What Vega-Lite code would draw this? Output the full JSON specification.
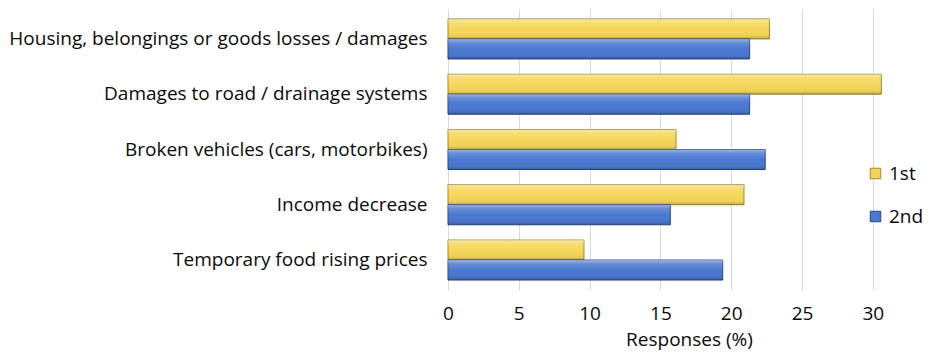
{
  "$schema": "https://vega.github.io/schema/vega-lite/v6.json",
  "autosize": {"type": "none"},
  "padding": {"left": 448, "top": 9, "right": 59, "bottom": 66},
  "width": 439,
  "height": 281,
  "background": "white",
  "config": {
    "font": "Open Sans",
    "view": {"stroke": null},
    "axis": {"labelFont": "Open Sans", "titleFont": "Open Sans", "labelColor": "#0a0a0a", "titleColor": "#0a0a0a"}
  },
  "data": {
    "values": [
      {"cat": "Housing, belongings or goods losses / damages", "series": "1st", "value": 22.7},
      {"cat": "Housing, belongings or goods losses / damages", "series": "2nd", "value": 21.3},
      {"cat": "Damages to road / drainage systems", "series": "1st", "value": 30.6},
      {"cat": "Damages to road / drainage systems", "series": "2nd", "value": 21.3},
      {"cat": "Broken vehicles (cars, motorbikes)", "series": "1st", "value": 16.1},
      {"cat": "Broken vehicles (cars, motorbikes)", "series": "2nd", "value": 22.4},
      {"cat": "Income decrease", "series": "1st", "value": 20.9},
      {"cat": "Income decrease", "series": "2nd", "value": 15.7},
      {"cat": "Temporary food rising prices", "series": "1st", "value": 9.6},
      {"cat": "Temporary food rising prices", "series": "2nd", "value": 19.4}
    ]
  },
  "encoding": {
    "y": {
      "field": "cat", "type": "nominal", "sort": null,
      "scale": {"paddingInner": 0.276, "paddingOuter": 0.18},
      "axis": {"title": null, "domain": false, "ticks": false, "grid": false, "labelPadding": 21, "labelFontSize": 19, "labelLimit": 460}
    },
    "yOffset": {"field": "series", "type": "nominal", "sort": ["1st", "2nd"], "scale": {"paddingInner": 0, "paddingOuter": 0}},
    "x": {
      "field": "value", "type": "quantitative",
      "scale": {"domain": [0, 31], "nice": false, "zero": true},
      "axis": {
        "values": [0, 5, 10, 15, 20, 25, 30],
        "title": "Responses (%)", "titleFontSize": 19, "titleFontWeight": "normal", "titlePadding": 7,
        "titleX": 241, "titleAlign": "center", "titleAnchor": null,
        "labelFontSize": 19, "labelPadding": 14, "labelFlush": false, "domain": false, "ticks": false,
        "grid": true, "gridColor": "#d9d9d9", "gridWidth": 1
      }
    }
  },
  "layer": [
    {
      "mark": {"type": "bar", "strokeWidth": 1},
      "encoding": {
        "color": {
          "field": "series", "type": "nominal",
          "scale": {"domain": ["1st", "2nd"], "range": ["#F5D65A", "#4A78D0"]},
          "legend": {
            "title": null, "orient": "none", "legendX": 418, "legendY": 155,
            "symbolType": "square", "symbolSize": 110, "symbolStrokeWidth": 1, "symbolStrokeColor": "#555",
            "labelFontSize": 19, "labelFont": "Open Sans", "labelColor": "#0a0a0a", "rowPadding": 23, "labelOffset": 4
          }
        },
        "stroke": {
          "field": "series", "type": "nominal",
          "scale": {"domain": ["1st", "2nd"], "range": ["#9C8A2E", "#2C4787"]},
          "legend": null
        }
      }
    },
    {
      "mark": {
        "type": "bar",
        "fill": {
          "gradient": "linear", "x1": 0, "y1": 0, "x2": 0, "y2": 1,
          "stops": [
            {"offset": 0, "color": "rgba(255,255,255,0.45)"},
            {"offset": 0.2, "color": "rgba(255,255,255,0.15)"},
            {"offset": 0.5, "color": "rgba(255,255,255,0)"},
            {"offset": 0.85, "color": "rgba(0,0,0,0.04)"},
            {"offset": 1, "color": "rgba(0,0,0,0.22)"}
          ]
        }
      }
    }
  ]
}
